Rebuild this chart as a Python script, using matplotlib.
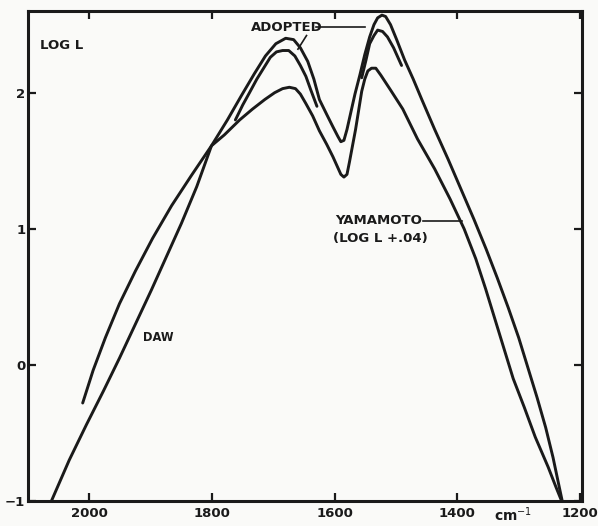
import numpy as np
import matplotlib.pyplot as plt

# curva externa (ADOPTED): numero de onda (cm-1) e log L
adopted_wn = [2011, 1994, 1974, 1951, 1925, 1897, 1866, 1834, 1801, 1775, 1752, 1731,
              1713, 1696, 1680, 1667, 1656, 1644, 1634, 1625, 1613, 1603, 1595, 1590,
              1585, 1580, 1574, 1567, 1559, 1551, 1543, 1536, 1530, 1523, 1517, 1509,
              1499, 1486, 1472, 1458, 1437, 1415, 1394, 1373, 1353, 1335, 1317, 1300,
              1285, 1270, 1256, 1244, 1237, 1229]
adopted_logl = [-0.28, -0.04, 0.20, 0.45, 0.69, 0.93, 1.17, 1.39, 1.61, 1.80, 1.98, 2.14,
                2.27, 2.36, 2.40, 2.39, 2.33, 2.23, 2.10, 1.95, 1.84, 1.75, 1.68, 1.64,
                1.65, 1.73, 1.85, 1.99, 2.13, 2.28, 2.41, 2.50, 2.55, 2.57, 2.56, 2.50,
                2.39, 2.24, 2.10, 1.95, 1.73, 1.51, 1.29, 1.07, 0.85, 0.64, 0.42, 0.20,
                -0.02, -0.24, -0.46, -0.68, -0.83, -1.00]

# trechos internos (YAMAMOTO, log L + .04) perto dos dois picos
yamamoto_wn1 = [1762, 1750, 1739, 1727, 1716, 1705, 1695, 1685, 1675, 1665, 1656, 1647, 1639, 1629]
yamamoto_logl1 = [1.80, 1.91, 2.00, 2.10, 2.18, 2.26, 2.30, 2.31, 2.31, 2.27, 2.20, 2.12, 2.02, 1.90]
yamamoto_wn2 = [1556, 1549, 1543, 1536, 1530, 1522, 1514, 1504, 1491]
yamamoto_logl2 = [2.11, 2.24, 2.36, 2.42, 2.46, 2.45, 2.41, 2.33, 2.20]

# curva de baixo (DAW)
daw_wn = [2062, 2033, 2005, 1977, 1951, 1925, 1899, 1874, 1850, 1825, 1801, 1780,
          1755, 1734, 1714, 1698, 1685, 1674, 1664, 1656, 1647, 1636, 1625, 1613,
          1603, 1595, 1590, 1585, 1580, 1576, 1571, 1566, 1561, 1556, 1551, 1546,
          1540, 1533, 1525, 1509, 1489, 1465, 1437, 1412, 1389, 1370, 1354, 1339,
          1324, 1309, 1291, 1273, 1252, 1239, 1230]
daw_logl = [-1.00, -0.70, -0.44, -0.19, 0.05, 0.30, 0.55, 0.80, 1.04, 1.31, 1.61, 1.69,
            1.80, 1.88, 1.95, 2.00, 2.03, 2.04, 2.03, 1.99, 1.92, 1.83, 1.72, 1.62,
            1.53, 1.45, 1.40, 1.38, 1.40, 1.49, 1.61, 1.73, 1.87, 2.01, 2.10, 2.16,
            2.18, 2.18, 2.13, 2.02, 1.88, 1.66, 1.44, 1.22, 1.00, 0.78, 0.56, 0.34,
            0.12, -0.10, -0.31, -0.53, -0.75, -0.90, -1.00]

x_ticks = [2000, 1800, 1600, 1400, 1200]
y_ticks = [-1, 0, 1, 2]

cor = '#1a1a1a'
fig = plt.figure(figsize=(5.98, 5.26), dpi=100)
fig.patch.set_facecolor('#fafaf8')
ax = fig.add_axes([0.047, 0.0475, 0.926, 0.9315])
ax.set_facecolor('#fafaf8')

estilo = dict(color=cor, lw=2.1, solid_joinstyle='round', solid_capstyle='round')
ax.plot(adopted_wn, adopted_logl, **estilo)
ax.plot(yamamoto_wn1, yamamoto_logl1, **estilo)
ax.plot(yamamoto_wn2, yamamoto_logl2, **estilo)
ax.plot(daw_wn, daw_logl, **estilo)

ax.set_xlim(2100, 1197)
ax.set_ylim(-1, 2.6)
ax.set_xticks(x_ticks)
ax.set_yticks(y_ticks)
ax.tick_params(direction='in', length=6, width=1.6, top=True, right=True,
               labelsize=9.5, colors=cor)
ax.tick_params(axis='y', pad=2)
ax.tick_params(axis='x', pad=4)
for lab in ax.get_xticklabels() + ax.get_yticklabels():
    lab.set_fontweight('bold')
for s in ax.spines.values():
    s.set_linewidth(2.2)
    s.set_color(cor)

# textos
txt = dict(fontsize=9.5, color=cor, va='center', fontweight='bold')
ax.text(2080, 2.35, 'LOG L', ha='left', **txt)
ax.text(1678, 2.48, 'ADOPTED', ha='center', **txt)
ax.plot([1630, 1551], [2.48, 2.48], color=cor, lw=1.2)
ax.plot([1646, 1660], [2.42, 2.32], color=cor, lw=1.2)
ax.text(1600, 1.06, 'YAMAMOTO', ha='left', **txt)
ax.text(1603, 0.93, '(LOG L +.04)', ha='left', **txt)
ax.plot([1456, 1393], [1.06, 1.06], color=cor, lw=1.2)
ax.text(1913, 0.20, 'DAW', ha='left', fontsize=8.3, color=cor, va='center', fontweight='bold')
ax.text(1309, -1.03, 'cm$^{-1}$', fontsize=10, color=cor, va='top', ha='center',
        fontweight='bold', clip_on=False)

fig.savefig('out.png', dpi=100, facecolor=fig.get_facecolor())
